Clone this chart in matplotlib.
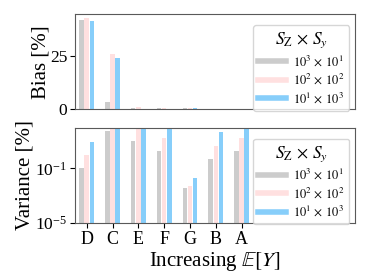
import numpy as np
import matplotlib
matplotlib.use("Agg")
import matplotlib.pyplot as plt
from matplotlib.lines import Line2D

plt.rcParams['font.family'] = ['Liberation Serif', 'DejaVu Serif']
plt.rcParams['mathtext.fontset'] = 'stix'

cats = ['D', 'C', 'E', 'F', 'G', 'B', 'A']
labels = [r'$10^3 \,\times\, 10^1$', r'$10^2 \,\times\, 10^2$', r'$10^1 \,\times\, 10^3$']
colors = ['#cccccc', '#ffe0e0', '#87cefa']

# bias [%]
bias_1 = [41.8, 3.4, 0.8, 0.8, 0.7, 0.0, 0.0]
bias_2 = [42.9, 26.1, 1.0, 0.7, 0.7, 0.0, 0.0]
bias_3 = [41.6, 24.2, 0.3, 0.0, 0.8, 0.0, 0.0]

# variance [%]
var_1 = [0.1, 60, 10, 1.8, 0.0035, 0.45, 1.9]
var_2 = [0.9, 300, 300, 17, 0.005, 4.7, 17]
var_3 = [8, 300, 300, 300, 0.02, 44, 300]

x = np.arange(len(cats))
w = 0.18
offs = [-0.2, 0.0, 0.2]

fig, (ax1, ax2) = plt.subplots(2, 1, figsize=(3.74, 2.8), dpi=100)
fig.subplots_adjust(left=0.2, right=0.95, top=0.95, bottom=0.204, hspace=0.19)

for ax, series in [(ax1, [bias_1, bias_2, bias_3]), (ax2, [var_1, var_2, var_3])]:
    for s, c, o in zip(series, colors, offs):
        ax.bar(x + o, s, width=w, color=c, bottom=1e-5 if ax is ax2 else 0)
    ax.set_xlim(-0.46, 10.4)
    for sp in ax.spines.values():
        sp.set_color('0.35')
    handles = [Line2D([0], [0], color=c, lw=4) for c in colors]
    leg = ax.legend(handles, labels, title=r'$S_\mathrm{Z} \,\times\, S_y$', loc='upper right',
                    bbox_to_anchor=(0.979, 0.88), borderaxespad=0,
                    fontsize=9, title_fontsize=12.5, handlelength=2.2, handletextpad=0.6,
                    borderpad=0.4, labelspacing=0.3)

ax1.set_ylim(0, 44.8)
ax1.set_yticks([0, 25])
ax1.set_xticks([])
ax1.set_ylabel('Bias [%]', fontsize=15)
ax1.yaxis.set_label_coords(-0.085, 0.5)
ax1.tick_params(labelsize=12.5, pad=2)

ax2.set_yscale('log')
ax2.set_ylim(1e-5, 1e2)
ax2.set_yticks([1e-5, 1e-1])
ax2.minorticks_off()
ax2.set_xticks(x)
ax2.set_xticklabels(cats)
ax2.tick_params(axis='y', labelsize=12.5, pad=2)
ax2.tick_params(axis='x', labelsize=13, pad=2)
ax2.set_ylabel('Variance [%]', fontsize=15)
ax2.yaxis.set_label_coords(-0.143, 0.5)
ax2.set_xlabel(r'Increasing $\mathbb{E}[Y]$', fontsize=15, labelpad=2)

fig.savefig('out.png', dpi=100)
